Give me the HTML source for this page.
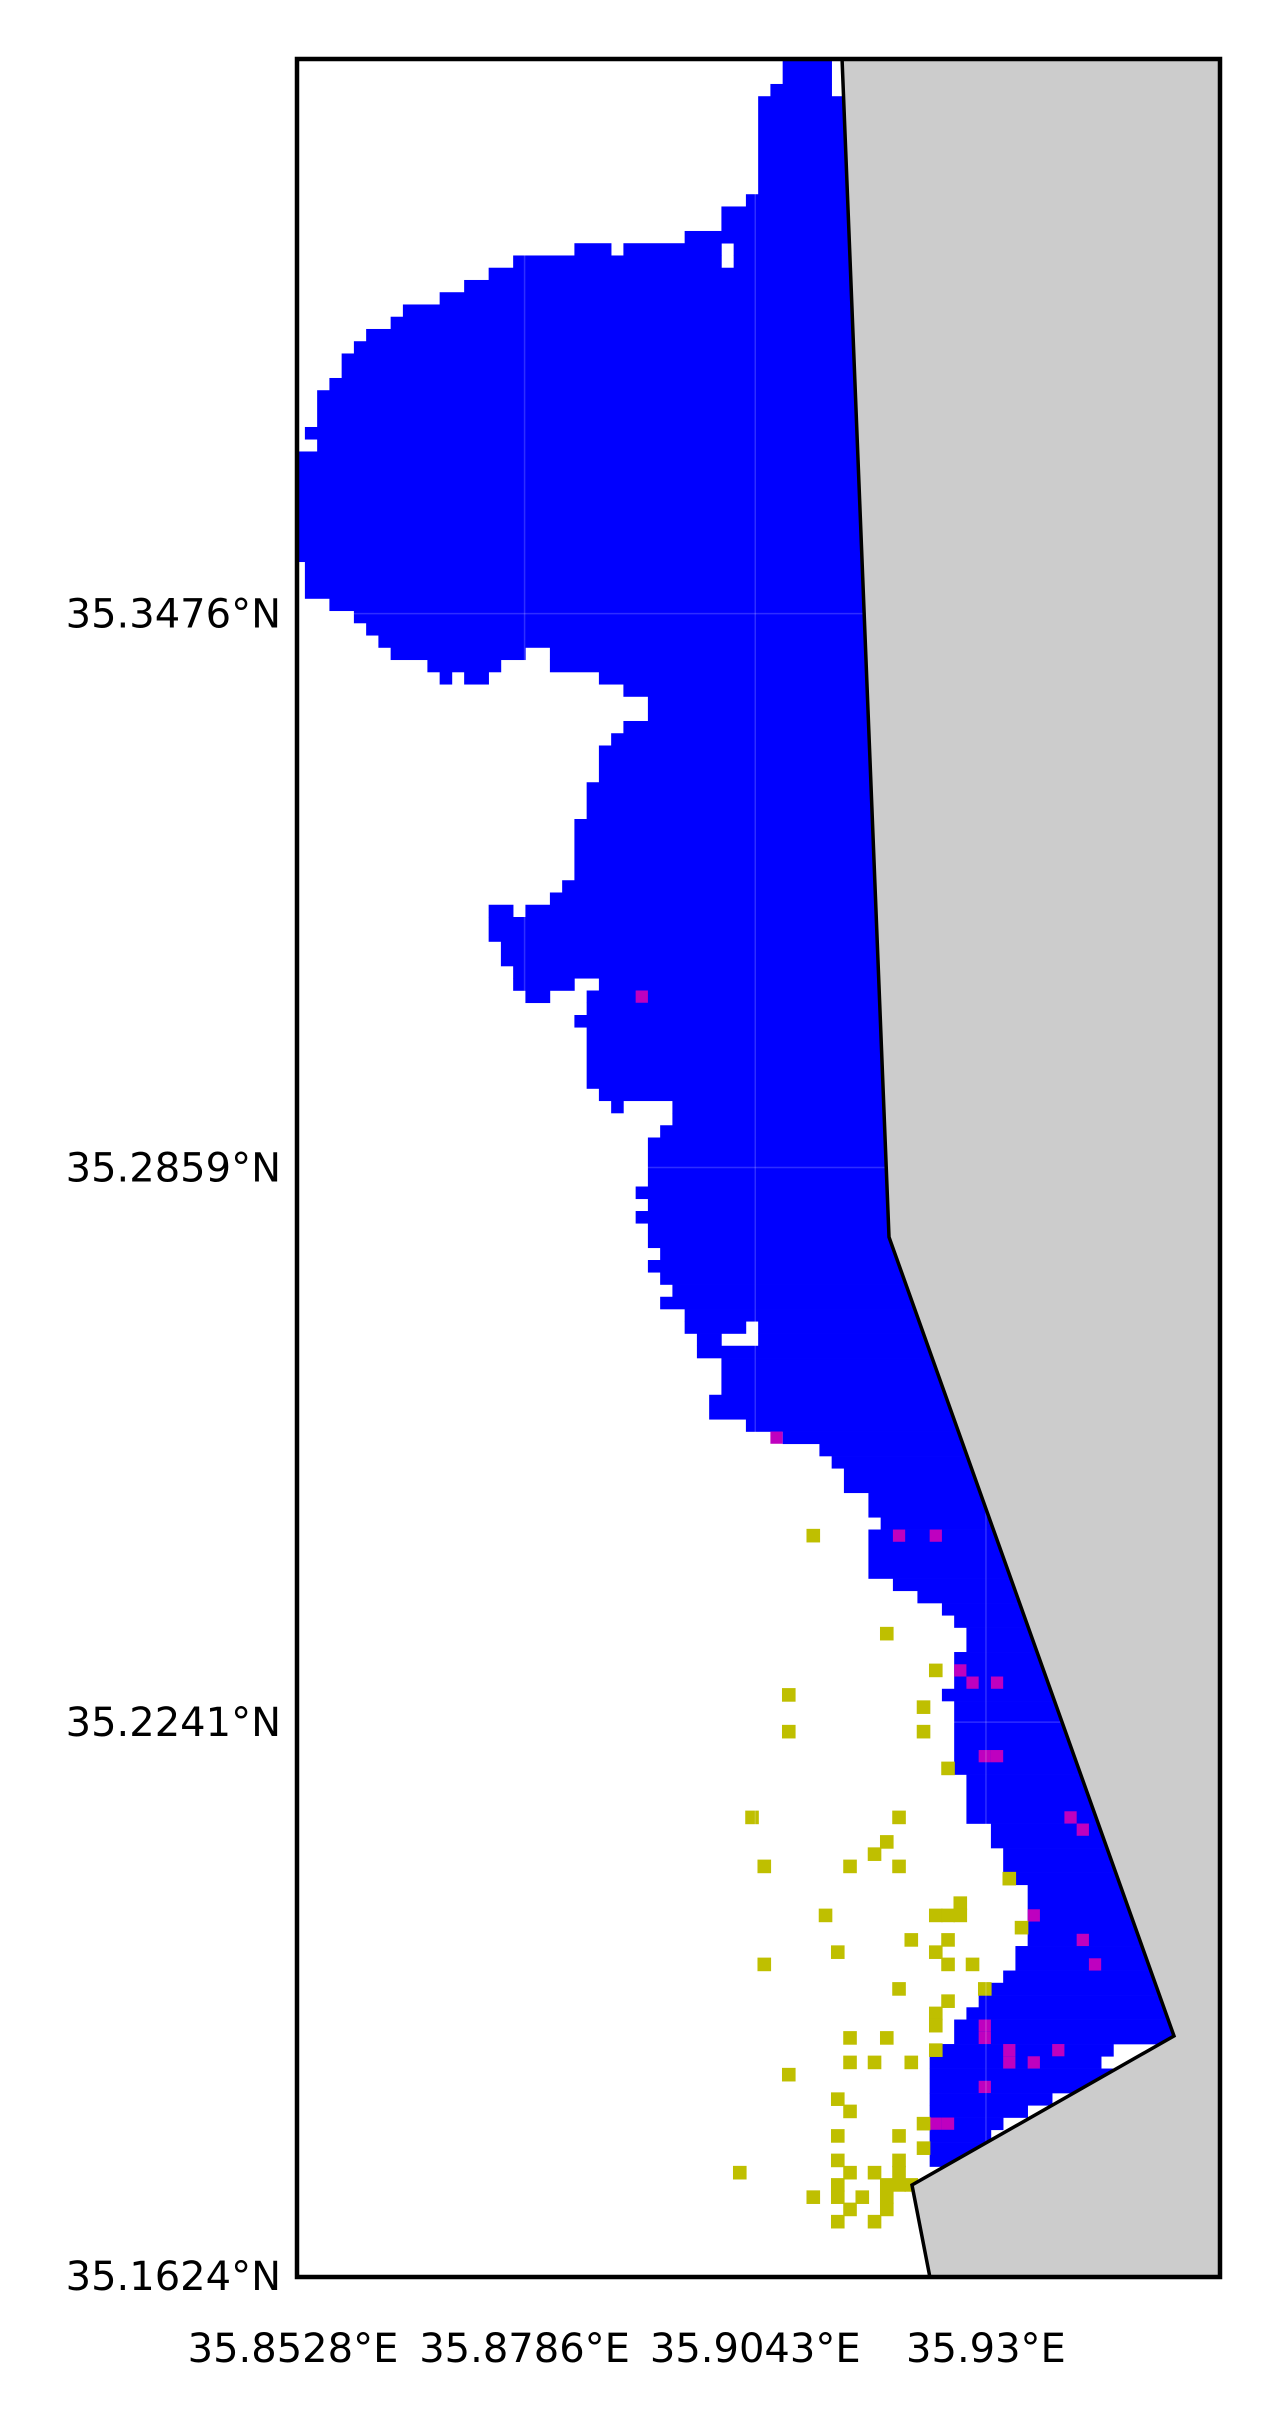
<!DOCTYPE html>
<html><head><meta charset="utf-8"><style>
html,body{margin:0;padding:0;background:#fff;}
svg{display:block;}
text{font-family:"DejaVu Sans","Liberation Sans",sans-serif;font-size:40px;fill:#000;}
</style></head><body>
<svg id="map" width="1278" height="2430" viewBox="0 0 1278 2430" xmlns="http://www.w3.org/2000/svg">
<defs><clipPath id="axclip"><rect x="295" y="59" width="925" height="2218"/></clipPath></defs>
<g id="plot" clip-path="url(#axclip)"></g>
<g id="axes"></g>
</svg>
<script>
// grid of cells (row r from top, col c from left)
const gridLon0 = 35.85276, gridLat0 = 35.40934, cellDeg = 0.0013648;
// blue spans: [rowStart,rowEnd,colStart,colEnd]
const blueSpans = [
[0,1,40,43],[2,2,39,43],[3,10,38,80],[11,11,37,80],[12,13,35,80],[14,14,32,80],
[15,15,23,25],[15,15,27,34],[15,15,36,80],[16,16,18,34],[16,16,36,80],
[17,17,16,80],[18,18,14,80],[19,19,12,80],[20,20,9,80],[21,21,8,80],[22,22,6,80],[23,23,5,80],
[24,25,4,80],[26,26,3,80],[27,29,2,80],[30,30,1,80],[31,31,2,80],[32,40,0,80],[41,43,1,80],
[44,44,3,80],[45,45,5,80],[46,46,6,80],[47,47,7,80],[48,48,8,18],[48,48,21,80],
[49,49,11,16],[49,49,21,80],[50,50,12,12],[50,50,14,15],[50,50,25,80],[51,51,27,80],
[52,53,29,80],[54,54,27,80],[55,55,26,80],[56,58,25,80],[59,61,24,80],[62,66,23,80],
[67,67,22,80],[68,68,21,80],[69,69,16,17],[69,69,19,80],[70,71,16,80],[72,73,17,80],
[74,74,18,80],[75,75,18,22],[75,75,25,80],[76,76,19,20],[76,76,24,80],[77,77,24,80],
[78,78,23,80],[79,83,24,80],[84,84,25,80],[85,85,26,26],[85,85,31,80],[86,86,31,80],
[87,87,30,80],[88,91,29,80],[92,92,28,80],[93,93,29,80],[94,94,28,80],[95,96,29,80],
[97,97,30,80],[98,98,29,80],[99,99,30,80],[100,100,31,80],[101,101,30,80],[102,102,32,80],
[103,103,32,36],[103,103,38,80],[104,104,33,34],[104,104,38,80],[105,105,33,80],
[106,108,35,80],[109,110,34,80],[111,111,37,80],[112,112,40,80],[113,113,43,80],
[114,114,44,80],[115,116,45,80],[117,118,47,80],[119,119,48,80],[120,123,47,80],
[124,124,49,80],[125,125,51,80],[126,126,53,80],[127,127,54,80],[128,129,55,80],
[130,132,54,80],[133,133,53,80],[134,139,54,80],[140,143,55,80],[144,145,57,80],
[146,147,58,80],[148,148,59,80],[149,153,60,80],[154,155,59,80],[156,156,58,80],
[157,157,57,80],[158,158,56,80],[159,159,55,80],[160,161,54,80],[162,162,53,66],
[163,163,52,65],[164,165,52,80],[166,166,52,61],[167,167,52,59],[168,168,52,57],
[169,169,52,56],[170,171,52,80]
];
const magentaRows = [76,112,120,120,131,132,132,138,138,143,144,151,153,155,160,161,162,162,163,163,165,168,168];
const magentaCols = [28,39,49,52,54,55,57,56,57,63,64,60,64,65,56,56,58,62,58,60,56,52,53];
const yellowRows = [120,128,131,133,134,136,136,139,143,143,145,146,147,147,147,148,150,151,151,151,151,152,153,153,154,154,155,155,155,157,157,158,159,160,161,161,162,163,163,163,164,166,167,168,169,169,170,171,171,172,172,172,172,173,173,173,173,174,174,174,174,175,175,176,176];
const yellowCols = [42,48,52,40,51,40,51,53,37,49,48,47,38,45,49,58,54,43,52,53,54,59,50,53,44,52,38,53,55,49,56,53,52,52,45,48,52,45,47,50,40,44,45,51,44,49,51,44,49,36,45,47,49,44,48,49,50,42,44,46,48,45,48,44,47];
const coastLon = [35.91396,35.91920,35.95095,35.92176,35.92377];
const coastLat = [35.40960,35.27815,35.18914,35.17254,35.16220];
const lonTicks = [35.8528,35.8786,35.9043,35.93];
const lonTickLabels = ["35.8528°E","35.8786°E","35.9043°E","35.93°E"];
const latTicks = [35.3476,35.2859,35.2241,35.1624];
const latTickLabels = ["35.3476°N","35.2859°N","35.2241°N","35.1624°N"];

const NS="http://www.w3.org/2000/svg";
const PX=8976;
function xOf(lon){return 293+(lon-35.8528)*PX;}
function yOf(lat){return 2276-(lat-35.1624)*PX;}
function cellX(c){return xOf(gridLon0+c*cellDeg);}
function cellY(r){return yOf(gridLat0-r*cellDeg);}
const plot=document.getElementById('plot'), axes=document.getElementById('axes');
function mk(tag,attrs,parent){const e=document.createElementNS(NS,tag);for(const k in attrs)e.setAttribute(k,attrs[k]);parent.appendChild(e);return e;}

blueSpans.forEach(s=>{
  const x0=cellX(s[2]),x1=cellX(s[3]+1),y0=cellY(s[0]),y1=cellY(s[1]+1);
  const el=mk('rect',{x:x0,y:y0,width:x1-x0+0.3,height:y1-y0+0.3,fill:'#0000ff'},plot);
  
  
});
magentaRows.forEach((r,i)=>{
  const c=magentaCols[i];
  const el=mk('rect',{x:cellX(c),y:cellY(r),width:cellX(c+1)-cellX(c),height:cellY(r+1)-cellY(r),fill:'#bf00bf'},plot);
  
  
});
yellowRows.forEach((r,i)=>{
  const c=yellowCols[i];
  const cx=(cellX(c)+cellX(c+1))/2, cy=(cellY(r)+cellY(r+1))/2;
  const el=mk('rect',{x:cx-6.8,y:cy-6.8,width:13.6,height:13.6,fill:'#bfbf00'},plot);
  
  
});
// faint gridlines
lonTicks.forEach(l=>{const el=mk('line',{x1:xOf(l),x2:xOf(l),y1:59,y2:2277,stroke:'rgba(255,255,255,0.18)','stroke-width':1.5},plot);
  });
latTicks.forEach(l=>{const el=mk('line',{x1:295,x2:1220,y1:yOf(l),y2:yOf(l),stroke:'rgba(255,255,255,0.18)','stroke-width':1.5},plot);
  });
// land
let pts=coastLon.map((l,i)=>xOf(l)+','+yOf(coastLat[i]));
const landPts=pts.concat([ '1240,2300','1240,40', xOf(coastLon[0])+',40']).join(' ');
const land=mk('polygon',{points:landPts,fill:'#cccccc',stroke:'none'},plot);


const coast=mk('polyline',{points:[xOf(coastLon[0])+',40'].concat(pts).concat([xOf(coastLon[4])+',2300']).join(' '),fill:'none',stroke:'#000','stroke-width':3.5,'stroke-linejoin':'miter'},plot);


// frame
const frame=mk('rect',{x:297,y:59,width:923,height:2218,fill:'none',stroke:'#000','stroke-width':4.5},axes);


lonTicks.forEach((l,i)=>{const t=mk('text',{x:xOf(l),y:2362,'text-anchor':'middle'},axes);t.textContent=lonTickLabels[i];
  });
latTicks.forEach((l,i)=>{const t=mk('text',{x:281,y:yOf(l)+14,'text-anchor':'end'},axes);t.textContent=latTickLabels[i];
  });
</script>
</body></html>
